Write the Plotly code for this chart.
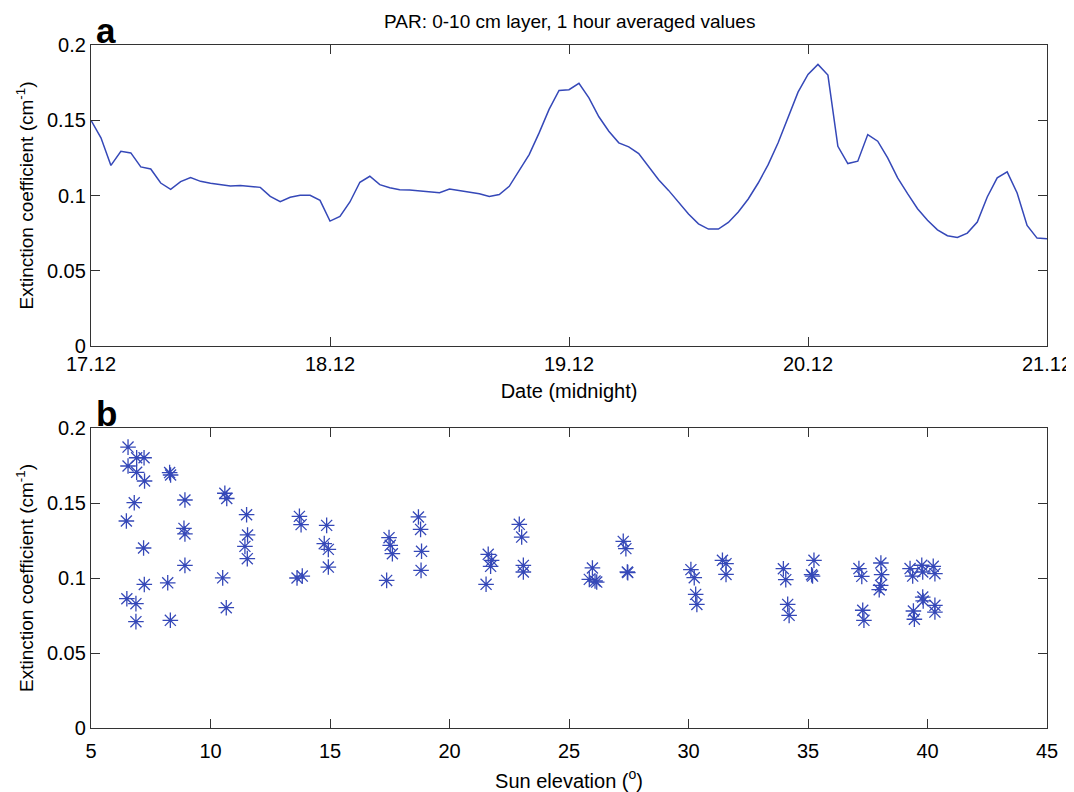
import plotly.graph_objects as go

# ---------------- data ----------------
# Panel a: hourly samples from 17.12 00:00 to 21.12 00:00
hour_index = list(range(97))
ext_hourly = [
    0.1500, 0.1383, 0.1200, 0.1294, 0.1283, 0.1190, 0.1176, 0.1083, 0.1041, 0.1092,
    0.1119, 0.1094, 0.1081, 0.1070, 0.1063, 0.1066, 0.1060, 0.1054, 0.0994, 0.0959,
    0.0988, 0.1001, 0.1001, 0.0968, 0.0830, 0.0861, 0.0957, 0.1088, 0.1128, 0.1072,
    0.1052, 0.1039, 0.1037, 0.1030, 0.1026, 0.1019, 0.1043, 0.1034, 0.1021, 0.1012,
    0.0994, 0.1006, 0.1061, 0.1168, 0.1272, 0.1416, 0.1572, 0.1698, 0.1703, 0.1745,
    0.1649, 0.1523, 0.1427, 0.1350, 0.1323, 0.1279, 0.1194, 0.1105, 0.1034, 0.0955,
    0.0877, 0.0812, 0.0777, 0.0777, 0.0821, 0.0890, 0.0977, 0.1083, 0.1205, 0.1350,
    0.1516, 0.1687, 0.1805, 0.1871, 0.1800, 0.1327, 0.1212, 0.1228, 0.1405, 0.1361,
    0.1250, 0.1117, 0.1012, 0.0912, 0.0835, 0.0772, 0.0733, 0.0721, 0.0750, 0.0824,
    0.0990, 0.1117, 0.1157, 0.1017, 0.0801, 0.0717, 0.0712,
]
day_tick_hours = [0, 24, 48, 72, 96]
day_tick_labels = ["17.12", "18.12", "19.12", "20.12", "21.12"]

# Panel b: extinction coefficient vs sun elevation
sun_elev = [
    6.55, 6.91, 7.22, 6.55, 6.91, 7.24, 8.29, 8.33, 6.81, 6.48,
    8.93, 10.60, 10.68, 11.51, 8.89, 8.93, 11.55, 11.44, 11.54, 7.20,
    8.93, 13.72, 13.79, 14.86, 14.76, 14.93, 14.93, 10.51, 7.23, 8.21,
    13.62, 13.84, 17.37, 17.47, 17.52, 17.61, 6.50, 6.88, 6.88, 8.32,
    10.66,
    18.70, 18.79, 18.83, 18.81, 21.62, 21.76, 21.72, 21.53, 22.92, 23.02,
    23.09, 23.09, 25.98, 25.85, 26.09, 26.16, 27.27, 27.38, 27.44, 27.46,
    30.10, 30.24, 30.30, 30.35, 31.42, 31.57, 31.57,
    33.97, 34.07, 34.15, 34.21, 35.25, 35.15, 35.19, 37.13, 37.25, 37.29,
    37.34, 38.05, 38.08, 38.04, 37.98, 39.27, 39.38, 39.41, 39.45, 39.76,
    39.80, 39.80, 39.82, 40.24, 40.31, 40.31, 40.31,
]
ext_sun = [
    0.1873, 0.1802, 0.1802, 0.1747, 0.1705, 0.1647, 0.1703, 0.1687, 0.1502, 0.1380,
    0.1520, 0.1565, 0.1530, 0.1422, 0.1331, 0.1294, 0.1287, 0.1211, 0.1129, 0.1200,
    0.1084, 0.1411, 0.1356, 0.1351, 0.1229, 0.1191, 0.1073, 0.1001, 0.0957, 0.0968,
    0.1000, 0.1013, 0.0984, 0.1269, 0.1218, 0.1162, 0.0862, 0.0829, 0.0709, 0.0718,
    0.0802,
    0.1407, 0.1324, 0.1178, 0.1051, 0.1158, 0.1118, 0.1078, 0.0958, 0.1358, 0.1273,
    0.1084, 0.1040, 0.1067, 0.0991, 0.0980, 0.0973, 0.1244, 0.1196, 0.1040, 0.1036,
    0.1056, 0.1002, 0.0891, 0.0824, 0.1118, 0.1096, 0.1024,
    0.1062, 0.0989, 0.0824, 0.0751, 0.1118, 0.1022, 0.1013, 0.1063, 0.1011, 0.0785,
    0.0718, 0.1100, 0.1022, 0.0951, 0.0922, 0.1063, 0.1013, 0.0780, 0.0725, 0.1085,
    0.1040, 0.0873, 0.0847, 0.1078, 0.1029, 0.0818, 0.0773,
]
y_tick_vals = [0, 0.05, 0.1, 0.15, 0.2]
y_tick_text = ["0", "0.05", "0.1", "0.15", "0.2"]
elev_tick_vals = [5, 10, 15, 20, 25, 30, 35, 40, 45]

# ---------------- figure ----------------
BLUE = "#3548b8"
AXIS = "#333333"
FONT = "Liberation Sans, Arial, Helvetica, sans-serif"

fig = go.Figure()
fig.add_trace(go.Scatter(
    x=hour_index, y=ext_hourly, mode="lines",
    line=dict(color=BLUE, width=1.5), xaxis="x", yaxis="y", showlegend=False,
))
fig.add_trace(go.Scatter(
    x=sun_elev, y=ext_sun, mode="markers",
    marker=dict(symbol="asterisk-open", size=13, color=BLUE,
                line=dict(color=BLUE, width=1.3)),
    xaxis="x2", yaxis="y2", showlegend=False,
))

common = dict(
    showline=True, linecolor=AXIS, linewidth=1.3, mirror="ticks",
    ticks="inside", ticklen=9, tickwidth=1.3, tickcolor=AXIS,
    showgrid=False, zeroline=False,
    tickfont=dict(size=20, color="black", family=FONT),
    automargin=False,
)

# The page body has an 8px margin, so the figure is 8px smaller than the window
fig.update_layout(
    width=1066, height=784,
    margin=dict(l=83, r=27, t=37, b=64),
    paper_bgcolor="white", plot_bgcolor="white",
    font=dict(family=FONT, color="black"),
    xaxis=dict(domain=[0, 1], anchor="y", range=[0, 96],
               tickvals=day_tick_hours, ticktext=day_tick_labels,
               title=dict(text="Date (midnight)", font=dict(size=20), standoff=9),
               **common),
    yaxis=dict(domain=[0.5593, 1.0], anchor="x", range=[0, 0.2],
               tickvals=y_tick_vals, ticktext=y_tick_text,
               title=dict(text="Extinction coefficient (cm<sup>-1</sup>)",
                          font=dict(size=19), standoff=8),
               **common),
    xaxis2=dict(domain=[0, 1], anchor="y2", range=[5, 45],
                tickvals=elev_tick_vals, ticklabelstandoff=5,
                title=dict(text="Sun elevation (<sup>o</sup>)", font=dict(size=20), standoff=12),
                **common),
    yaxis2=dict(domain=[0, 0.4392], anchor="x2", range=[0, 0.2],
                tickvals=y_tick_vals, ticktext=y_tick_text,
                title=dict(text="Extinction coefficient (cm<sup>-1</sup>)",
                           font=dict(size=19), standoff=8),
                **common),
    annotations=[
        dict(text="PAR: 0-10 cm layer, 1 hour averaged values",
             xref="paper", yref="paper", x=0.5, y=1.0337,
             xanchor="center", yanchor="middle", showarrow=False,
             font=dict(size=19, color="black")),
        dict(text="<b>a</b>", xref="paper", yref="paper", x=0.003, y=1.0,
             xanchor="left", yanchor="bottom", yshift=-7, showarrow=False,
             font=dict(size=35, color="black")),
        dict(text="<b>b</b>", xref="paper", yref="paper", x=0.003, y=0.4392,
             xanchor="left", yanchor="bottom", yshift=-7, showarrow=False,
             font=dict(size=35, color="black")),
    ],
)

fig.write_html("out.html")
